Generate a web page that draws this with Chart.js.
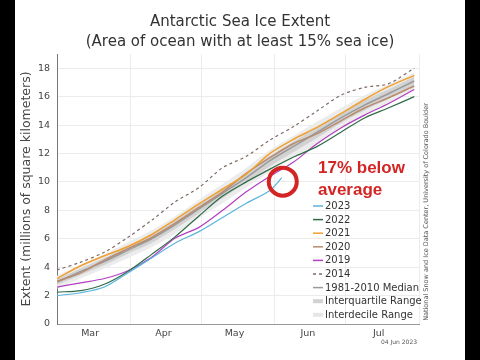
<!DOCTYPE html>
<html>
<head>
<meta charset="utf-8">
<title>Antarctic Sea Ice Extent</title>
<script src="https://cdn.jsdelivr.net/npm/chart.js@4"></script>
<style>
  html, body { margin: 0; padding: 0; background: #000; }
  #wrap { position: absolute; left: 15px; top: 0; width: 450px; height: 360px; background: #fff; }
</style>
</head>
<body>
<div id="wrap"><canvas id="chart"></canvas></div>
<script>
// days after 1 March
const days = [0, 10, 20, 30, 40, 50, 60, 70, 80, 90, 100, 110, 120, 130, 140, 151];
const days2023 = [0, 10, 20, 30, 40, 50, 60, 70, 80, 90, 95];

const ext2023 = [2.0, 2.2, 2.6, 3.6, 4.65, 5.7, 6.5, 7.5, 8.5, 9.4, 10.3];
const ext2022 = [2.25, 2.35, 2.8, 3.7, 4.9, 6.15, 7.6, 9.0, 10.0, 10.9, 11.75, 12.5, 13.5, 14.5, 15.2, 16.0];
const ext2021 = [3.2, 4.1, 4.8, 5.45, 6.3, 7.35, 8.45, 9.5, 10.55, 12.0, 13.0, 13.85, 14.8, 15.8, 16.7, 17.5];
const ext2020 = [3.0, 3.6, 4.5, 5.3, 6.1, 7.1, 8.2, 9.3, 10.6, 11.7, 12.7, 13.4, 14.3, 15.2, 15.9, 16.75];
const ext2019 = [2.6, 2.9, 3.2, 3.75, 4.7, 6.05, 6.8, 8.0, 9.3, 10.4, 11.4, 12.7, 13.8, 14.7, 15.5, 16.5];
const ext2014 = [3.8, 4.35, 5.05, 6.1, 7.3, 8.6, 9.6, 11.0, 11.8, 12.95, 13.9, 15.0, 16.1, 16.65, 16.9, 18.0];
const median = [2.95, 3.7, 4.4, 5.2, 6.0, 7.0, 8.1, 9.2, 10.3, 11.5, 12.5, 13.5, 14.5, 15.4, 16.2, 17.1];
const iqrLow = [2.75, 3.45, 4.15, 4.95, 5.7, 6.7, 7.8, 8.85, 9.95, 11.1, 12.1, 13.1, 14.15, 15.05, 15.85, 16.8];
const iqrHigh = [3.15, 3.9, 4.65, 5.45, 6.3, 7.3, 8.4, 9.5, 10.65, 11.85, 12.85, 13.85, 14.85, 15.75, 16.5, 17.4];
const idrLow = [2.5, 3.2, 3.9, 4.65, 5.4, 6.35, 7.45, 8.5, 9.6, 10.7, 11.7, 12.7, 13.8, 14.7, 15.5, 16.45];
const idrHigh = [3.4, 4.15, 4.9, 5.75, 6.6, 7.6, 8.75, 9.85, 11.0, 12.25, 13.25, 14.25, 15.2, 16.1, 16.85, 17.7];

const monthStarts = [0, 31, 61, 92, 122, 153];
const monthMids = [14, 45, 75, 106, 136];
const monthLabels = ["Mar", "Apr", "May", "Jun", "Jul"];
const yTicks = [0, 2, 4, 6, 8, 10, 12, 14, 16, 18];

const pts = (xs, ys) => xs.map((x, i) => ({ x: x, y: ys[i] }));

const line = (label, xs, ys, color, order, extra) => Object.assign({
  label: label,
  data: pts(xs, ys),
  borderColor: color,
  backgroundColor: color,
  borderWidth: 1.2,
  pointRadius: 0,
  tension: 0.3,
  fill: false,
  order: order
}, extra || {});

Chart.defaults.font.family = "'DejaVu Sans', sans-serif";

const extras = {
  id: "extras",
  afterDraw(chart) {
    const ctx = chart.ctx;
    const sx = chart.scales.x, sy = chart.scales.y;
    ctx.save();

    // legend inside plot area
    const items = chart.data.datasets.filter(d => d.legend);
    items.sort((a, b) => a.legend - b.legend);
    ctx.font = "10px 'DejaVu Sans'";
    ctx.textBaseline = "middle";
    ctx.textAlign = "left";
    items.forEach((d, i) => {
      const y = 206 + i * 13.6;
      ctx.beginPath();
      ctx.setLineDash(d.borderDash || []);
      ctx.strokeStyle = d.legendColor || d.borderColor;
      ctx.lineWidth = d.legendWidth || 1.5;
      ctx.moveTo(298, y);
      ctx.lineTo(308, y);
      ctx.stroke();
      ctx.setLineDash([]);
      ctx.fillStyle = "#333";
      ctx.fillText(d.label, 310, y + 0.5);
    });

    // annotation
    ctx.fillStyle = "#d42525";
    ctx.font = "bold 17px 'Liberation Sans'";
    ctx.fillText("17% below", 303, 168);
    ctx.fillText("average", 303, 190);
    const lastX = sx.getPixelForValue(days2023[days2023.length - 1]);
    const lastY = sy.getPixelForValue(ext2023[ext2023.length - 1]);
    ctx.beginPath();
    ctx.strokeStyle = "#d42525";
    ctx.lineWidth = 4;
    ctx.arc(lastX + 1, lastY + 4, 14, 0, Math.PI * 2);
    ctx.stroke();

    // credits
    ctx.fillStyle = "#555";
    ctx.font = "6.5px 'DejaVu Sans'";
    ctx.textAlign = "center";
    ctx.translate(411, 212);
    ctx.rotate(-Math.PI / 2);
    ctx.fillText("National Snow and Ice Data Center, University of Colorado Boulder", 0, 0);
    ctx.restore();

    ctx.save();
    ctx.fillStyle = "#555";
    ctx.font = "6px 'DejaVu Sans'";
    ctx.textAlign = "center";
    ctx.textBaseline = "middle";
    ctx.fillText("04 Jun 2023", 384, 342);
    ctx.restore();
  }
};

new Chart(document.getElementById("chart"), {
  type: "line",
  data: {
    datasets: [
      line("2023", days2023, ext2023, "#5ab4dc", 1, { legend: 1 }),
      line("2022", days, ext2022, "#2f6b48", 2, { legend: 2 }),
      line("2021", days, ext2021, "#f0a030", 3, { legend: 3, borderWidth: 1.5 }),
      line("2020", days, ext2020, "#b98b6e", 4, { legend: 4, borderWidth: 1.5 }),
      line("2019", days, ext2019, "#b23fc0", 5, { legend: 5 }),
      line("2014", days, ext2014, "#7d6a62", 6, { legend: 6, borderDash: [3, 3] }),
      line("1981-2010 Median", days, median, "#9a9a9a", 7, { legend: 7, borderWidth: 1.5 }),
      line("Interquartile Range", days, iqrHigh, "rgba(0,0,0,0)", 8,
        { legend: 8, backgroundColor: "#d2d2d2", legendColor: "#d2d2d2", legendWidth: 4, borderWidth: 0, fill: "+1" }),
      line("", days, iqrLow, "rgba(0,0,0,0)", 8, { borderWidth: 0 }),
      line("Interdecile Range", days, idrHigh, "rgba(0,0,0,0)", 9,
        { legend: 9, backgroundColor: "#ececec", legendColor: "#e6e6e6", legendWidth: 4, borderWidth: 0, fill: "+1" }),
      line("", days, idrLow, "rgba(0,0,0,0)", 9, { borderWidth: 0 })
    ]
  },
  options: {
    responsive: true,
    maintainAspectRatio: false,
    animation: false,
    layout: { padding: 0 },
    plugins: {
      legend: { display: false },
      tooltip: { enabled: false },
      title: {
        display: true,
        text: ["Antarctic Sea Ice Extent", "(Area of ocean with at least 15% sea ice)"],
        color: "#333",
        font: { size: 15, weight: "normal", lineHeight: 1.35 },
        padding: { top: 12, bottom: 1.5 }
      }
    },
    scales: {
      x: {
        type: "linear",
        min: 0,
        max: 153,
        afterBuildTicks: s => {
          s.ticks = monthStarts.concat(monthMids).sort((a, b) => a - b).map(v => ({ value: v }));
        },
        afterFit: s => { s.height = 36; },
        ticks: {
          autoSkip: false,
          maxRotation: 0,
          padding: 4,
          color: "#444",
          font: { size: 9.5 },
          callback: v => {
            const i = monthMids.indexOf(v);
            return i >= 0 ? monthLabels[i] : "";
          }
        },
        grid: {
          color: c => (c.tick && monthStarts.includes(c.tick.value)) ? "#ececec" : "rgba(0,0,0,0)",
          tickLength: 0
        },
        border: { color: "#999" }
      },
      y: {
        min: 0,
        max: 19,
        afterBuildTicks: s => { s.ticks = yTicks.map(v => ({ value: v })); },
        afterFit: s => { s.width = 42; },
        ticks: { color: "#444", font: { size: 9.5 }, padding: 7 },
        grid: { color: "#ececec", tickLength: 0 },
        border: { color: "#777" },
        title: {
          display: true,
          text: "Extent (millions of square kilometers)",
          color: "#444",
          font: { size: 12.5 },
          padding: { top: 4, bottom: 0 }
        }
      },
      // empty right-hand strip that holds the credit line
      yRight: {
        position: "right",
        min: 0,
        max: 19,
        afterFit: s => { s.width = 46; },
        ticks: { display: false },
        grid: { display: false },
        border: { display: false }
      }
    }
  },
  plugins: [extras]
});
</script>
</body>
</html>
